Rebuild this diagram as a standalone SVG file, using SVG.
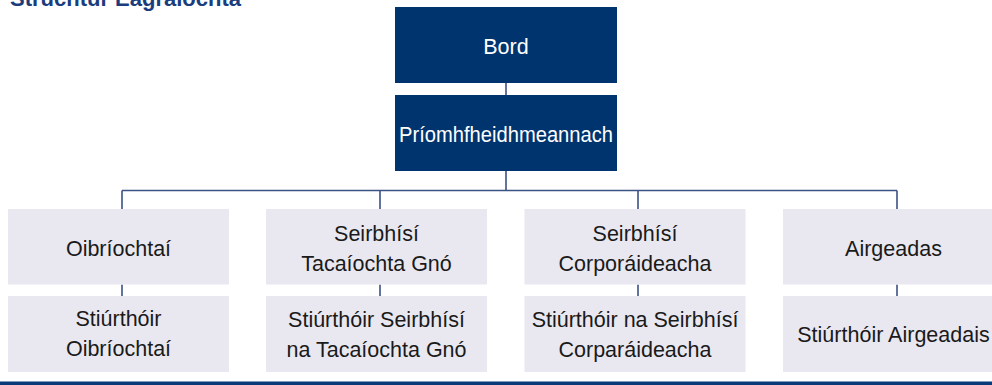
<svg xmlns="http://www.w3.org/2000/svg" width="992" height="385" viewBox="0 0 992 385">
<style>
.t{font-family:"Liberation Sans",Arial,sans-serif;font-size:21.5px;text-anchor:middle;fill:#1a1a1a}
.w{fill:#ffffff}
.top{fill:#00346f}
.lt{fill:#e9e8f1}
.title{font-family:"Liberation Sans",Arial,sans-serif;font-size:22px;font-weight:bold;fill:#1b3d7e}
.c{stroke:#3c5185;stroke-width:1.6;fill:none}
</style>
<rect width="992" height="385" fill="#ffffff"/>
<text class="title" x="10" y="6">Struchtúr Eagraíochta</text>
<g id="connectors">
<path class="c" d="M506 83V95M506 171V190.5M122 190.5H897M122 190.5V209M380 190.5V209M638 190.5V209M897 190.5V209"/>
<path class="c" d="M122 284.5V296M380 284.5V296M638 284.5V296M897 284.5V296"/>
</g>
<g id="bord"><rect class="top" x="395" y="7" width="222" height="76"/><text class="t w" x="506" y="54">Bord</text></g>
<g id="priomh"><rect class="top" x="395" y="95" width="222" height="76"/><text class="t w" x="506" y="141.5" textLength="214" lengthAdjust="spacingAndGlyphs">Príomhfheidhmeannach</text></g>
<g id="oibriochtai"><rect class="lt" x="8" y="209" width="221" height="75.5"/><text class="t" x="118.5" y="256">Oibríochtaí</text></g>
<g id="tacaiochta"><rect class="lt" x="266" y="209" width="221" height="75.5"/><text class="t" x="376.5" y="240.5">Seirbhísí</text><text class="t" x="376.5" y="270.5">Tacaíochta Gnó</text></g>
<g id="corporaideacha"><rect class="lt" x="524.5" y="209" width="221" height="75.5"/><text class="t" x="635" y="240.5">Seirbhísí</text><text class="t" x="635" y="270.5">Corporáideacha</text></g>
<g id="airgeadas"><rect class="lt" x="783" y="209" width="221" height="75.5"/><text class="t" x="893.5" y="256">Airgeadas</text></g>
<g id="stiurthoir-oibriochtai"><rect class="lt" x="8" y="296" width="221" height="76"/><text class="t" x="118.5" y="326">Stiúrthóir</text><text class="t" x="118.5" y="356">Oibríochtaí</text></g>
<g id="stiurthoir-tacaiochta"><rect class="lt" x="266" y="296" width="221" height="76"/><text class="t" x="376.5" y="327">Stiúrthóir Seirbhísí</text><text class="t" x="376.5" y="356.5">na Tacaíochta Gnó</text></g>
<g id="stiurthoir-corporaideacha"><rect class="lt" x="524.5" y="296" width="221" height="76"/><text class="t" x="635" y="327">Stiúrthóir na Seirbhísí</text><text class="t" x="635" y="356.5">Corparáideacha</text></g>
<g id="stiurthoir-airgeadais"><rect class="lt" x="783" y="296" width="221" height="76"/><text class="t" x="893.5" y="342">Stiúrthóir Airgeadais</text></g>
<rect x="0" y="381.5" width="992" height="3.5" fill="#0b3a78"/>
</svg>
